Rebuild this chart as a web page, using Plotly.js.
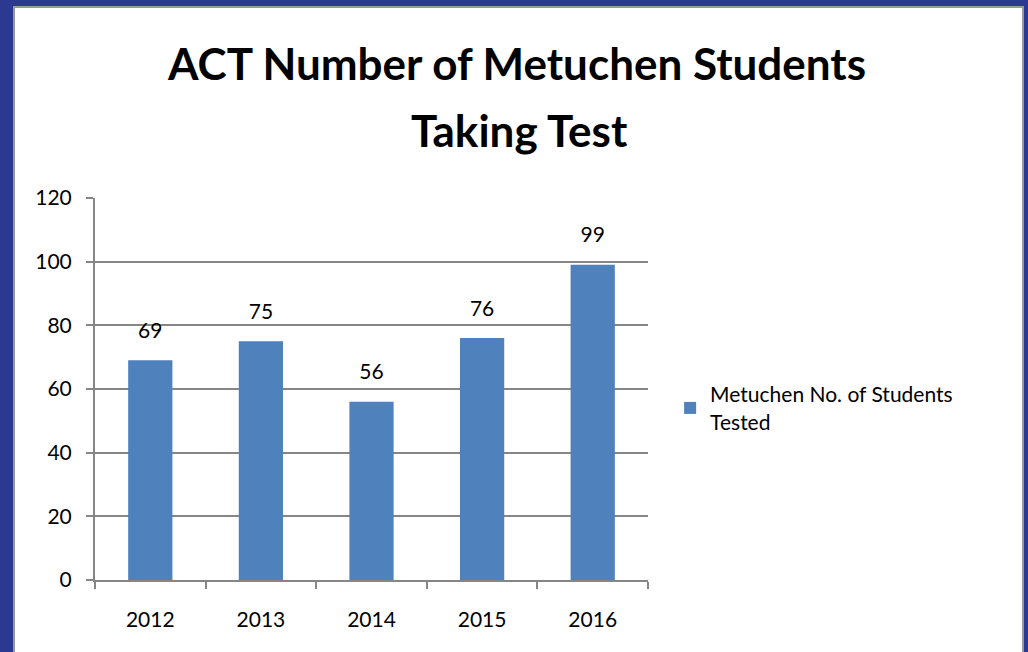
<!DOCTYPE html>
<html>
<head>
<meta charset="utf-8">
<script src="https://cdn.plot.ly/plotly-3.0.1.min.js"></script>
<style>
  html, body { margin: 0; padding: 0; background: #2B3990; overflow: hidden; }
  #frame {
    position: absolute; left: 13px; top: 6px;
    width: 1007px; height: 660px;
    background: #ffffff; border: 2px solid #9a9a9a;
  }
  #plot { width: 1007px; height: 660px; }
</style>
</head>
<body>
<div id="frame"><div id="plot"></div></div>
<script>
// chart values
let years = ["2012", "2013", "2014", "2015", "2016"];
let students = [69, 75, 56, 76, 99];

let trace1 = {
  x: years,
  y: students,
  type: "bar",
  name: "Metuchen No. of Students<br>Tested",
  marker: { color: "#4F81BD" },
  width: 0.4,
  hoverinfo: "x+y"
};

// value labels above each bar (invisible marker pushes the text up)
let trace2 = {
  x: years,
  y: students,
  type: "scatter",
  mode: "markers+text",
  text: students.map(String),
  textposition: "top center",
  textfont: { family: "Lato, sans-serif", size: 21, color: "#000000" },
  marker: { size: 26, opacity: 0 },
  showlegend: false,
  hoverinfo: "skip"
};

let layout = {
  title: {
    text: "ACT Number of Metuchen Students",
    font: { family: "Lato, sans-serif", size: 44, color: "#000000", weight: "bold" },
    xref: "container", x: 0.4985, xanchor: "center",
    yref: "container", y: 0.9136, yanchor: "middle"
  },
  width: 1007,
  height: 660,
  margin: { l: 80, r: 374, t: 190, b: 88 },
  paper_bgcolor: "#ffffff",
  plot_bgcolor: "#ffffff",
  font: { family: "Lato, sans-serif", size: 21, color: "#000000" },
  xaxis: {
    type: "category",
    tickson: "boundaries",
    tickangle: 0,
    ticks: "outside",
    ticklen: 7,
    tickcolor: "#868686",
    tickwidth: 2,
    showline: true,
    linecolor: "#868686",
    linewidth: 2,
    showgrid: false,
    ticklabelstandoff: 20,
    tickfont: { size: 21 }
  },
  yaxis: {
    range: [0, 120],
    dtick: 20,
    ticks: "outside",
    ticklen: 7,
    tickcolor: "#868686",
    tickwidth: 2,
    showline: true,
    linecolor: "#868686",
    linewidth: 2,
    gridcolor: "#868686",
    gridwidth: 2,
    zeroline: false,
    ticklabelstandoff: 10,
    tickfont: { size: 21 }
  },
  showlegend: true,
  legend: {
    x: 1.04, xanchor: "left",
    y: 0.45, yanchor: "middle",
    font: { size: 21 }
  },
  annotations: [{
    text: "Taking Test",
    xref: "paper", x: 0.767, xanchor: "center",
    yref: "paper", y: 1.178, yanchor: "middle",
    showarrow: false,
    font: { family: "Lato, sans-serif", size: 44, color: "#000000", weight: "bold" }
  }]
};

Plotly.newPlot("plot", [trace1, trace2], layout, { displayModeBar: false });
</script>
</body>
</html>
